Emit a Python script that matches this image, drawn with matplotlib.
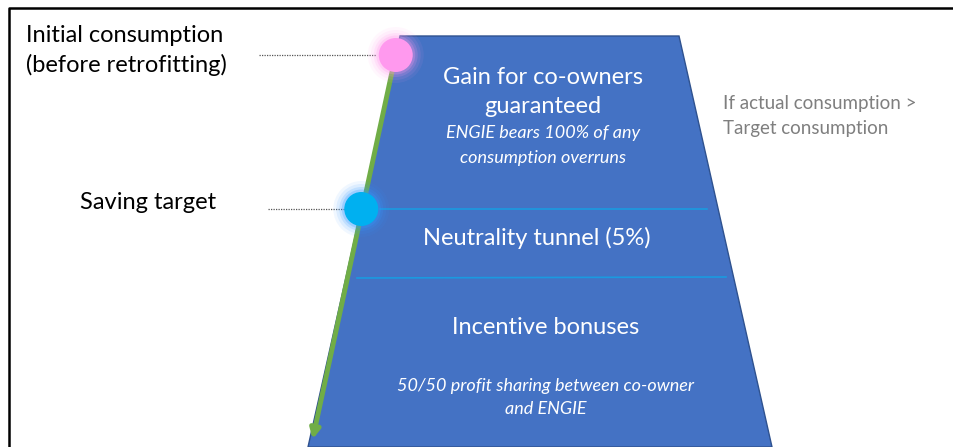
import matplotlib
matplotlib.use("Agg")
import matplotlib.pyplot as plt
from matplotlib.patches import Polygon, Circle, FancyArrowPatch

plt.rcParams['font.family'] = ['Lato', 'DejaVu Sans']

# labels
initial_lines = ["Initial consumption", "(before retrofitting)"]
target_label = "Saving target"
gain_lines = ["Gain for co-owners", "guaranteed"]
gain_notes = ["ENGIE bears 100% of any", "consumption overruns"]
neutral_label = "Neutrality tunnel (5%)"
bonus_label = "Incentive bonuses"
bonus_notes = ["50/50 profit sharing between co-owner", "and ENGIE"]
side_lines = ["If actual consumption >", "Target consumption"]

# diagram geometry (pixel space)
trap_x = [400, 679, 772, 308]
trap_y = [36, 36, 447, 447]
divider_y = [209, 277]
marker_y = [55, 209]

W, H = 954, 447
fig = plt.figure(figsize=(W / 100, H / 100), dpi=100)
ax = fig.add_axes([0, 0, 1, 1])
ax.set_xlim(0, W)
ax.set_ylim(H, 0)
ax.axis('off')

# frame
ax.plot([9, 9, W + 5], [H + 5, 8, 8], color='black', lw=1.8, zorder=1)

ax.add_patch(Polygon(list(zip(trap_x, trap_y)), closed=True, facecolor='#4472C4',
                     edgecolor='#2F528F', lw=1, zorder=2))

def edge_x(y, side):
    if side == 0:
        x0, x1 = trap_x[0], trap_x[3]
    else:
        x0, x1 = trap_x[1], trap_x[2]
    return x0 + (x1 - x0) * (y - trap_y[0]) / (trap_y[2] - trap_y[0])

ax.plot([380, 707], [209, 209], color='#1A9AE0', lw=1.2, zorder=3)
ax.plot([357, 726], [278, 277], color='#1A9AE0', lw=1.2, zorder=3)

# green arrow
ax.add_patch(FancyArrowPatch((395, 58), (312, 442), arrowstyle='-|>', mutation_scale=14,
                             color='#70AD47', lw=3.5, zorder=4))

# markers with glow
for y, col, glow in zip(marker_y, ['#FF99EE', '#00B0F0'], ['#FF99EE', '#3399FF']):
    cx = edge_x(y, 0)
    for r, a in [(28, 0.07), (25, 0.1), (22, 0.16), (19.5, 0.25)]:
        ax.add_patch(Circle((cx, y), r, color=glow, alpha=a, lw=0, zorder=5))
    ax.add_patch(Circle((cx, y), 17, color=col, lw=0, zorder=6))

# dotted leaders
ax.plot([259, 376], [55, 55], ls=(0, (1, 1)), color='#555555', lw=0.9, zorder=3)
ax.plot([268, 347], [209, 209], ls=(0, (1, 1)), color='#555555', lw=0.9, zorder=3)

big = 17
small = 13

for txt, yb in zip(initial_lines, [42, 72]):
    ax.text(26, yb, txt, fontsize=big, color='black', ha='left', va='baseline')
ax.text(80, 209, target_label, fontsize=big, color='black', ha='left', va='baseline')

for txt, yb in zip(gain_lines, [84, 113]):
    ax.text(543, yb, txt, fontsize=big, color='white', ha='center', va='baseline')
for txt, yb in zip(gain_notes, [138, 163]):
    ax.text(543, yb, txt, fontsize=small, color='white', style='italic', ha='center', va='baseline')
ax.text(537, 245, neutral_label, fontsize=big, color='white', ha='center', va='baseline')
ax.text(546, 334, bonus_label, fontsize=big, color='white', ha='center', va='baseline')
for txt, yb in zip(bonus_notes, [391, 414]):
    ax.text(546, yb, txt, fontsize=small, color='white', style='italic', ha='center', va='baseline')

for txt, yb in zip(side_lines, [109, 134]):
    ax.text(723, yb, txt, fontsize=13.5, color='#7F7F7F', ha='left', va='baseline')

fig.savefig('out.png', dpi=100)
